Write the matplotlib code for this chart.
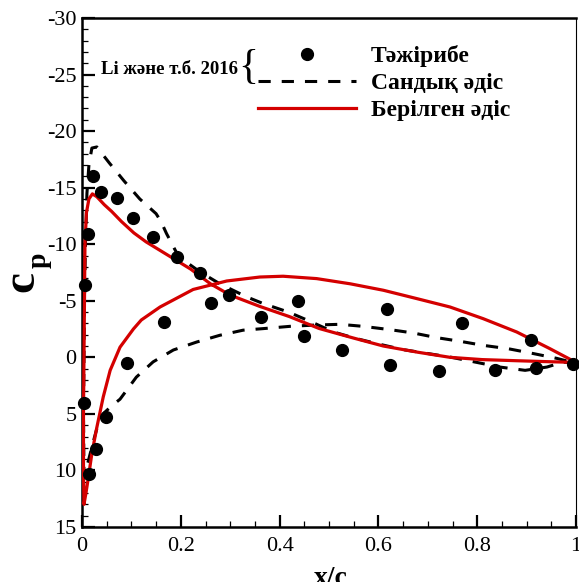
import numpy as np
import matplotlib
matplotlib.use('Agg')
import matplotlib.pyplot as plt
from matplotlib.lines import Line2D
from matplotlib.font_manager import FontProperties

SERIF = ['Liberation Serif', 'DejaVu Serif']

# experiment (Li et al. 2016)
exp_x = [0.005, 0.006, 0.013, 0.014, 0.023, 0.028, 0.038, 0.048, 0.071, 0.091,
         0.103, 0.143, 0.167, 0.193, 0.239, 0.261, 0.298, 0.362, 0.438, 0.450,
         0.526, 0.618, 0.623, 0.723, 0.770, 0.836, 0.909, 0.919, 0.993]
exp_cp = [4.07, -6.37, -10.9, 10.3, -16.0, 8.1, -14.6, 5.3, -14.1, 0.5,
          -12.3, -10.6, -3.16, -8.87, -7.43, -4.8, -5.48, -3.6, -4.95, -1.86,
          -0.62, -4.24, 0.65, 1.24, -3.03, 1.15, -1.56, 0.94, 0.62]

# numerical method (Li et al. 2016), suction branch then pressure branch
num_up_x = [0.004, 0.003, 0.004, 0.005, 0.007, 0.010, 0.014, 0.020, 0.030, 0.055,
            0.085, 0.117, 0.150, 0.160, 0.171, 0.192, 0.215, 0.239, 0.279, 0.333,
            0.367, 0.418, 0.465, 0.509, 0.556, 0.603, 0.650, 0.701, 0.748, 0.796,
            0.846, 0.897, 0.941, 0.974, 1.0]
num_up_cp = [10.5, 5.0, 0.0, -5.0, -10.0, -14.5, -17.0, -18.5, -18.6, -17.2,
             -15.6, -14.0, -12.7, -12.0, -10.95, -9.2, -8.3, -7.55, -6.5, -5.35,
             -4.75, -4.0, -3.12, -2.24, -1.65, -1.15, -0.68, -0.33, 0.0, 0.42,
             0.86, 1.15, 0.86, 0.42, 0.53]
num_lo_x = [0.004, 0.012, 0.022, 0.030, 0.045, 0.060, 0.077, 0.110, 0.144, 0.185,
            0.232, 0.279, 0.326, 0.367, 0.421, 0.470, 0.522, 0.569, 0.623, 0.671,
            0.718, 0.765, 0.812, 0.863, 0.914, 0.961, 1.0]
num_lo_cp = [10.5, 9.3, 7.6, 6.3, 4.9, 4.3, 3.7, 1.75, 0.4, -0.65,
             -1.35, -1.95, -2.4, -2.54, -2.74, -2.85, -2.92, -2.74, -2.45, -2.15,
             -1.74, -1.42, -1.06, -0.76, -0.33, 0.09, 0.53]

# present method
cur_a_x = [0.004, 0.003, 0.003, 0.004, 0.005, 0.006, 0.009, 0.014, 0.021, 0.030,
           0.045, 0.060, 0.080, 0.105, 0.130, 0.160, 0.190, 0.220, 0.260, 0.300,
           0.360, 0.420, 0.480, 0.550, 0.610, 0.680, 0.745, 0.810, 0.880, 0.940, 1.0]
cur_a_cp = [13.0, 10.0, 5.0, 0.0, -5.0, -10.0, -12.8, -14.0, -14.45, -14.2,
            -13.5, -12.9, -12.0, -11.0, -10.2, -9.4, -8.6, -7.8, -6.5, -5.5,
            -4.5, -3.6, -2.55, -1.7, -1.0, -0.45, 0.0, 0.2, 0.3, 0.38, 0.45]
cur_b_x = [0.004, 0.008, 0.013, 0.020, 0.030, 0.043, 0.057, 0.077, 0.104, 0.120,
           0.158, 0.225, 0.293, 0.360, 0.407, 0.475, 0.543, 0.610, 0.677, 0.745,
           0.812, 0.880, 0.947, 1.0]
cur_b_cp = [13.0, 12.0, 10.6, 8.5, 6.2, 3.5, 1.15, -0.9, -2.5, -3.3,
            -4.45, -6.0, -6.75, -7.1, -7.17, -6.96, -6.5, -5.93, -5.2, -4.45,
            -3.42, -2.24, -0.77, 0.45]

xticks = [0, 0.2, 0.4, 0.6, 0.8, 1]
xlabels = ['0', '0.2', '0.4', '0.6', '0.8', '1']
yticks = [-30, -25, -20, -15, -10, -5, 0, 5, 10, 15]
ylabels = ['-30', '-25', '-20', '-15', '-10', '-5', '0', '5', '10', '15']

W, H = 579, 582
fig = plt.figure(figsize=(W / 100, H / 100), dpi=100)
ax = fig.add_axes([82 / W, 1 - 527 / H, (576 - 82) / W, (527 - 18) / H])

red = '#d40000'
dash = (0, (4, 3.6))
# one closed polyline for each method
nx = num_up_x[::-1] + num_lo_x[1:]
ncp = num_up_cp[::-1] + num_lo_cp[1:]
ax.plot(nx, ncp, color='k', lw=2.2, ls=dash, zorder=2)
rx = cur_a_x[::-1] + cur_b_x[1:]
rcp = cur_a_cp[::-1] + cur_b_cp[1:]
ax.plot(rx, rcp, color=red, lw=2.3, zorder=3)
ax.plot(exp_x, exp_cp, 'o', color='k', ms=8.5, zorder=4, clip_on=False)

ax.set_xlim(0, 1)
ax.set_ylim(15, -30)
ax.set_xticks(xticks)
ax.set_xticklabels(xlabels)
ax.set_yticks(yticks)
ax.set_yticklabels(ylabels)
ax.set_xticks(np.arange(0, 1.0001, 0.05), minor=True)
ax.set_yticks(np.arange(-30, 15.5, 1), minor=True)
ax.tick_params(which='both', direction='in', top=False, right=False)
ax.tick_params(which='major', length=9, width=1.6)
ax.tick_params(which='minor', length=4.5, width=0.9)
ax.tick_params(axis='x', pad=7)
ax.tick_params(axis='y', pad=4)
for lab in ax.get_xticklabels() + ax.get_yticklabels():
    lab.set_fontfamily(SERIF)
    lab.set_fontsize(16)
for s in ax.spines.values():
    s.set_linewidth(1.8)
ax.spines['right'].set_linewidth(0.8)

# axis titles
fig.text(331 / W, 1 - 566 / H, 'x/c', family=SERIF, weight='bold', fontsize=20,
         ha='center', va='top')
fig.text(22 / W, 1 - 281 / H, 'c', family=SERIF, weight='bold', fontsize=34,
         rotation=90, ha='center', va='center')
fig.text(39 / W, 1 - 260 / H, 'p', family=SERIF, weight='bold', fontsize=20,
         rotation=90, ha='center', va='center')

# legend
handles = [Line2D([], [], marker='o', ls='none', color='k', ms=8.5),
           Line2D([], [], color='k', lw=2.2, ls=dash),
           Line2D([], [], color=red, lw=2.3)]
labels = ['Тәжірибе', 'Сандық әдіс', 'Берілген әдіс']
ax.legend(handles, labels, loc='upper left',
          bbox_to_anchor=(258 / W, 1 - 45 / H), bbox_transform=fig.transFigure,
          frameon=False, handlelength=4.15, handletextpad=0.62, labelspacing=0.24,
          borderpad=0, borderaxespad=0,
          prop=FontProperties(family=SERIF, weight='bold', size=17))
fig.text(238 / W, 1 - 70 / H, 'Li және т.б. 2016', family=SERIF, weight='bold',
         fontsize=13.5, ha='right', va='center')
fig.text(248 / W, 1 - 68 / H, '{', family=SERIF, fontsize=30,
         ha='center', va='center')

fig.savefig('out.png', dpi=100)
